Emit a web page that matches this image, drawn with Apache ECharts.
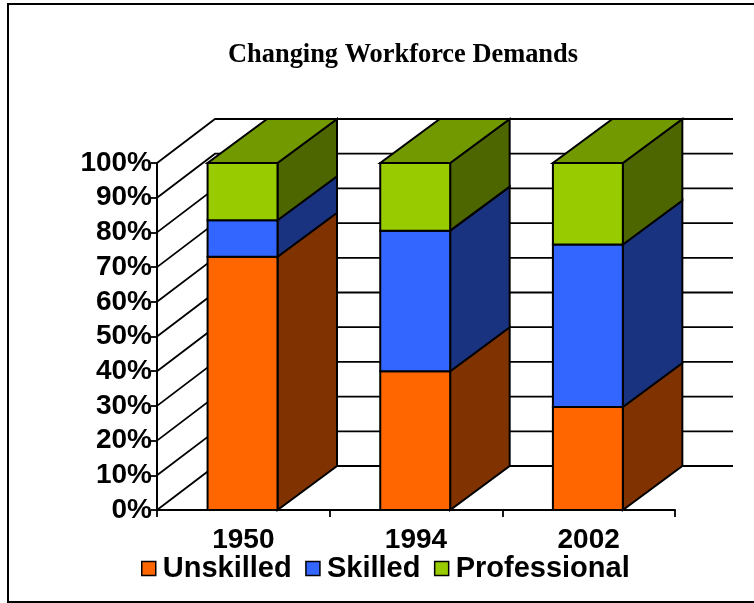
<!DOCTYPE html>
<html>
<head>
<meta charset="utf-8">
<style>
  html, body { margin: 0; padding: 0; background: #fff; }
  #chart { width: 754px; height: 603px; }
</style>
<script src="https://cdn.jsdelivr.net/npm/echarts@6/dist/echarts.min.js"></script>
</head>
<body>
<div id="chart"></div>
<script>
const years = ["1950", "1994", "2002"];
const unskilled = [73, 40, 29.7];
const skilled = [10.5, 40.5, 46.8];
const professional = [16.5, 19.5, 23.5];
const yTicks = [0, 10, 20, 30, 40, 50, 60, 70, 80, 90, 100];

// 3d look: everything behind the front plane is shifted by this many px
const wallDx = 58;
const barDx = 59.5;
const depthDy = -44;
const barRatio = 0.405;
const barShift = -0.8;
const edge = { stroke: "#000", lineWidth: 2 };
const font = "Liberation Sans";

// base of each stack, running total of the series below it
const stackBase = (vals, i) => vals.reduce((s, v) => s + v[i], 0);

function barSeries(name, values, below, front, side, top) {
  return {
    type: "custom",
    name: name,
    coordinateSystem: "cartesian2d",
    itemStyle: { color: front },
    encode: { x: 0, y: 1 },
    data: values.map((v, i) => [i, v, stackBase(below, i)]),
    z: 3,
    renderItem: function (params, api) {
      const base = api.value(2);
      const w = api.size([1, 0])[0] * barRatio;
      const p0 = api.coord([api.value(0), base]);
      const p1 = api.coord([api.value(0), base + api.value(1)]);
      const l = p0[0] + barShift - w / 2, r = p0[0] + barShift + w / 2;
      const children = [
        {
          type: "polygon",
          shape: { points: [[r, p0[1]], [r, p1[1]], [r + barDx, p1[1] + depthDy], [r + barDx, p0[1] + depthDy]] },
          style: Object.assign({ fill: side }, edge),
        },
        {
          type: "rect",
          shape: { x: l, y: p1[1], width: w, height: p0[1] - p1[1] },
          style: Object.assign({ fill: front }, edge),
        },
      ];
      if (top) {
        children.push({
          type: "polygon",
          shape: { points: [[l, p1[1]], [r, p1[1]], [r + barDx, p1[1] + depthDy], [l + barDx, p1[1] + depthDy]] },
          style: Object.assign({ fill: top }, edge),
        });
      }
      return { type: "group", children: children };
    },
  };
}

// back wall and side wall lines, one item per tick
const wallSeries = {
  type: "custom",
  name: "walls",
  coordinateSystem: "cartesian2d",
  silent: true,
  z: 1,
  data: yTicks.map((t) => [0, t]),
  encode: { y: 1 },
  renderItem: function (params, api) {
    const size = api.size([1, 0])[0];
    const p = api.coord([0, api.value(1)]);
    const x0 = p[0] - size / 2;
    const x1 = x0 + size * years.length;
    const y = p[1];
    return {
      type: "polyline",
      shape: { points: [[x0, y], [x0 + wallDx, y + depthDy], [x1 + wallDx, y + depthDy]] },
      style: { fill: "none", stroke: "#000", lineWidth: 1.8 },
    };
  },
};

const chart = echarts.init(document.getElementById("chart"), null, { renderer: "canvas" });
chart.setOption({
  animation: false,
  backgroundColor: "#fff",
  title: {
    text: "Changing Workforce Demands",
    left: 398,
    top: 37,
    textAlign: "center",
    textStyle: { fontFamily: "Liberation Serif", fontWeight: "bold", fontSize: 26.4, color: "#000" },
  },
  graphic: [
    {
      // frame runs off the right edge of the picture
      type: "rect",
      shape: { x: 8, y: 4, width: 760, height: 598 },
      style: { fill: "none", stroke: "#000", lineWidth: 2 },
      z: 0,
    },
  ],
  legend: {
    data: ["Unskilled", "Skilled", "Professional"],
    left: 136,
    top: 549,
    icon: "rect",
    itemWidth: 14,
    itemHeight: 14,
    itemGap: 13.5,
    itemStyle: { borderColor: "#000", borderWidth: 1.5 },
    textStyle: { fontFamily: font, fontWeight: "bold", fontSize: 29, color: "#000", padding: [0, 0, 0, 2] },
  },
  grid: { left: 157, right: 79, top: 163, bottom: 93 },
  xAxis: {
    type: "category",
    data: years,
    axisLine: { lineStyle: { color: "#000", width: 2 } },
    axisTick: { show: true, alignWithLabel: false, length: 7, lineStyle: { color: "#000", width: 1.8 } },
    axisLabel: { fontFamily: font, fontWeight: "bold", fontSize: 28, color: "#000", margin: 16 },
  },
  yAxis: {
    type: "value",
    min: 0,
    max: 100,
    interval: 10,
    axisLine: { show: true, lineStyle: { color: "#000", width: 2 } },
    axisTick: { show: true, length: 6, lineStyle: { color: "#000", width: 1.8 } },
    splitLine: { show: false },
    axisLabel: { formatter: "{value}%", fontFamily: font, fontWeight: "bold", fontSize: 28, color: "#000", margin: 5 },
  },
  series: [
    wallSeries,
    barSeries("Unskilled", unskilled, [], "#FF6600", "#803300"),
    barSeries("Skilled", skilled, [unskilled], "#3366FF", "#1A3380"),
    barSeries("Professional", professional, [unskilled, skilled], "#99CC00", "#4D6600", "#739900"),
  ],
});
</script>
</body>
</html>
